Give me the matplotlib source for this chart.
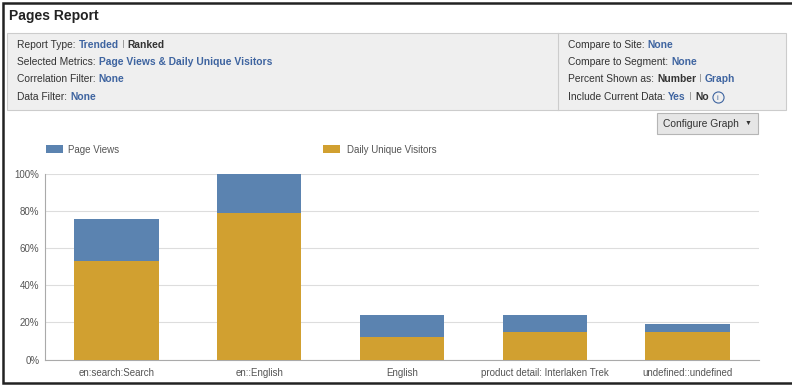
import matplotlib.pyplot as plt
from matplotlib.patches import Rectangle
from matplotlib.ticker import PercentFormatter

categories = ['en:search:Search', 'en::English', 'English',
              'product detail: Interlaken Trek', 'undefined::undefined']
page_views = [75.3, 100.0, 23.8, 23.8, 19.1]
daily_unique = [52.8, 78.8, 12.2, 14.7, 14.7]
y_ticks = [0, 20, 40, 60, 80, 100]

BLUE = '#5b83b0'
GOLD = '#d1a030'
LINK = '#3e64a0'
DARK = '#333333'

W, H = 792, 385
plt.rcParams['font.family'] = ['Liberation Sans', 'DejaVu Sans']
fig = plt.figure(figsize=(W / 100, H / 100), dpi=100)
renderer = fig.canvas.get_renderer()


def px(x, y):
    return x / W, 1 - y / H


def box(x0, y0, x1, y1, **kw):
    fig.add_artist(Rectangle(px(x0, y1), (x1 - x0) / W, (y1 - y0) / H,
                             transform=fig.transFigure, **kw))


def line_of(x, y, parts, size=7.4):
    # parts: list of (text, color, weight); advanced by measured width
    for s, c, w in parts:
        t = fig.text(*px(x, y), s, color=c, fontweight=w, fontsize=size,
                     va='center', ha='left')
        x += t.get_window_extent(renderer).width + 3
    return x


# outer frame
box(3, 2.5, 820, 382.5, facecolor='white', edgecolor='#222222', lw=1.8, zorder=0)
fig.text(*px(9, 16), 'Pages Report', fontsize=10, fontweight='bold',
         color='#222222', va='center')

# settings panel
box(7, 33, 786, 110, facecolor='#efefef', edgecolor='#cccccc', lw=0.8, zorder=1)
fig.add_artist(plt.Line2D([558 / W] * 2, [1 - 33 / H, 1 - 110 / H],
                          color='#cccccc', lw=0.8, transform=fig.transFigure))

SEP = ('I', '#999999', 'normal')
line_of(17, 45, [('Report Type:', DARK, 'normal'), ('Trended', LINK, 'bold'),
                 SEP, ('Ranked', DARK, 'bold')])
line_of(17, 62, [('Selected Metrics:', DARK, 'normal'),
                 ('Page Views & Daily Unique Visitors', LINK, 'bold')])
line_of(17, 79, [('Correlation Filter:', DARK, 'normal'), ('None', LINK, 'bold')])
line_of(17, 97, [('Data Filter:', DARK, 'normal'), ('None', LINK, 'bold')])
line_of(568, 45, [('Compare to Site:', DARK, 'normal'), ('None', LINK, 'bold')])
line_of(568, 62, [('Compare to Segment:', DARK, 'normal'), ('None', LINK, 'bold')])
line_of(568, 79, [('Percent Shown as:', DARK, 'normal'), ('Number', DARK, 'bold'),
                  SEP, ('Graph', LINK, 'bold')])
xe = line_of(568, 97, [('Include Current Data:', DARK, 'normal'), ('Yes', LINK, 'bold'),
                       SEP, ('No', DARK, 'bold')])
ix, iy = px(xe + 6, 97)
fig.add_artist(plt.Line2D([ix], [iy], marker='o', markersize=8, markerfacecolor='none',
                          markeredgecolor=LINK, markeredgewidth=0.8,
                          transform=fig.transFigure))
fig.text(*px(xe + 6, 97.5), 'i', fontsize=5.5, color=LINK, ha='center',
         va='center_baseline')

# configure button
box(657, 113, 758, 134, facecolor='#e6e6e6', edgecolor='#b5b5b5', lw=0.8, zorder=1)
fig.text(*px(701, 124), 'Configure Graph', fontsize=7.4, color=DARK,
         ha='center', va='center')
fig.text(*px(748, 123), '▼', fontsize=5, color=DARK, ha='center', va='center')

# legend
box(46, 145, 63, 153, facecolor=BLUE, edgecolor='none')
fig.text(*px(68, 149.5), 'Page Views', fontsize=7, color='#555555', va='center')
box(323, 145, 340, 153, facecolor=GOLD, edgecolor='none')
fig.text(*px(347, 149.5), 'Daily Unique Visitors', fontsize=7, color='#555555',
         va='center')

# chart
left, right, top, bottom = 45, 759, 173.5, 359.5
ax = fig.add_axes([left / W, 1 - bottom / H, (right - left) / W, (bottom - top) / H])
x = range(len(categories))
ax.bar(x, page_views, width=0.59, color=BLUE, zorder=2)
ax.bar(x, daily_unique, width=0.59, color=GOLD, zorder=3)
ax.set_xlim(-0.5, len(categories) - 0.5)
ax.set_ylim(0, 100)
ax.set_yticks(y_ticks)
ax.yaxis.set_major_formatter(PercentFormatter(decimals=0))
ax.set_xticks(list(x))
ax.set_xticklabels(categories)
ax.grid(axis='y', color='#dddddd', lw=0.8, zorder=0)
for s in ['top', 'right']:
    ax.spines[s].set_visible(False)
ax.spines['left'].set_color('#aaaaaa')
ax.spines['bottom'].set_color('#aaaaaa')
ax.spines['left'].set_linewidth(0.8)
ax.spines['bottom'].set_linewidth(0.8)
ax.tick_params(length=0, labelsize=7, labelcolor='#555555')
ax.tick_params(axis='x', pad=6)
ax.tick_params(axis='y', pad=4)

fig.savefig('out.png', dpi=100)
